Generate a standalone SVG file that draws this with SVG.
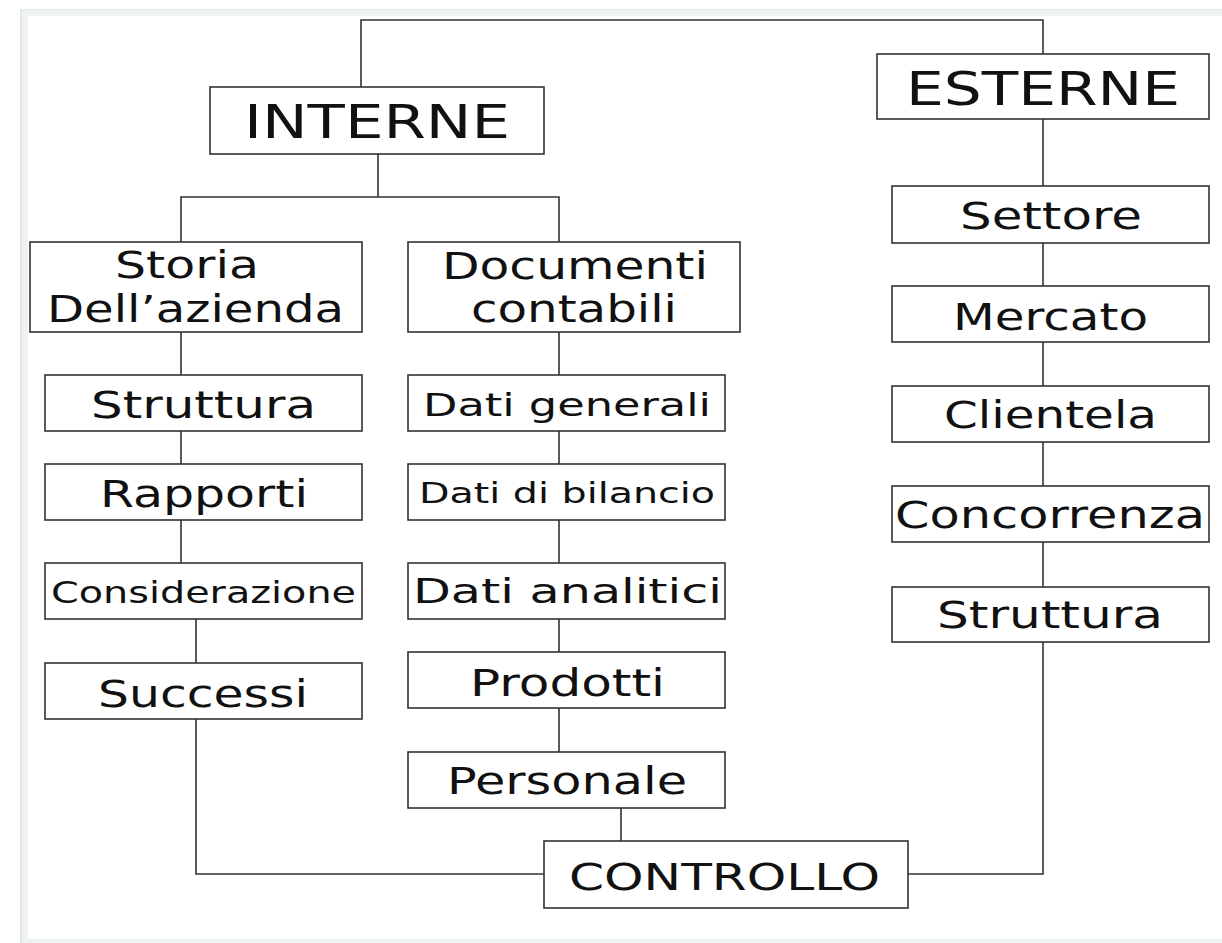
<svg xmlns="http://www.w3.org/2000/svg" width="1222" height="943" viewBox="0 0 1222 943">
<style>
.box{fill:#fff;stroke:#333;stroke-width:1.6}
.t{font-family:"DejaVu Sans","Verdana",sans-serif;fill:#111;}
.c{fill:none;stroke:#333;stroke-width:1.6}
</style>
<rect x="0" y="0" width="1222" height="943" fill="#fff"/>
<rect x="20" y="9" width="1202" height="934" fill="#e4e7e7"/>
<rect x="22" y="10" width="1200" height="933" fill="#eef2f2"/>
<rect x="28" y="16" width="1194" height="923" fill="#fff"/>
<g id="connectors">
<path class="c" d="M361,87 V20 H1043 V54"/>
<path class="c" d="M378,154 V197 M181,242 V197 H559 V242"/>
<path class="c" d="M181,332 V375 M181,431 V464 M181,520 V563 M196,619 V663"/>
<path class="c" d="M196,719 V874 H544"/>
<path class="c" d="M559,332 V375 M559,431 V464 M559,520 V563 M559,619 V652 M559,708 V752 M621,808 V841"/>
<path class="c" d="M1043,119 V186 M1043,243 V286 M1043,342 V386 M1043,442 V486 M1043,542 V587"/>
<path class="c" d="M1043,642 V874 H908"/>
</g>
<g id="interne"><rect class="box" x="210" y="87" width="334" height="67"/><text class="t" x="244" y="138" font-size="46" textLength="266" lengthAdjust="spacingAndGlyphs">INTERNE</text></g>
<g id="esterne"><rect class="box" x="877" y="54" width="332" height="65"/><text class="t" x="906" y="105" font-size="46" textLength="274" lengthAdjust="spacingAndGlyphs">ESTERNE</text></g>
<g id="storia"><rect class="box" x="30" y="242" width="332" height="90"/><text class="t" x="115" y="278" font-size="37" textLength="144" lengthAdjust="spacingAndGlyphs">Storia</text><text class="t" x="47" y="322" font-size="37" textLength="297" lengthAdjust="spacingAndGlyphs">Dell’azienda</text></g>
<g id="documenti"><rect class="box" x="408" y="242" width="332" height="90"/><text class="t" x="442" y="279" font-size="37" textLength="266" lengthAdjust="spacingAndGlyphs">Documenti</text><text class="t" x="471" y="322" font-size="37" textLength="206" lengthAdjust="spacingAndGlyphs">contabili</text></g>
<g id="settore"><rect class="box" x="892" y="186" width="317" height="57"/><text class="t" x="960" y="229" font-size="37" textLength="182" lengthAdjust="spacingAndGlyphs">Settore</text></g>
<g id="mercato"><rect class="box" x="892" y="286" width="317" height="56"/><text class="t" x="953" y="330" font-size="37" textLength="195" lengthAdjust="spacingAndGlyphs">Mercato</text></g>
<g id="clientela"><rect class="box" x="892" y="386" width="317" height="56"/><text class="t" x="944" y="428" font-size="37" textLength="213" lengthAdjust="spacingAndGlyphs">Clientela</text></g>
<g id="concorrenza"><rect class="box" x="892" y="486" width="317" height="56"/><text class="t" x="895" y="528" font-size="38" textLength="310" lengthAdjust="spacingAndGlyphs">Concorrenza</text></g>
<g id="struttura-est"><rect class="box" x="892" y="587" width="317" height="55"/><text class="t" x="937" y="628" font-size="37" textLength="226" lengthAdjust="spacingAndGlyphs">Struttura</text></g>
<g id="struttura-int"><rect class="box" x="45" y="375" width="317" height="56"/><text class="t" x="91" y="418" font-size="37" textLength="225" lengthAdjust="spacingAndGlyphs">Struttura</text></g>
<g id="rapporti"><rect class="box" x="45" y="464" width="317" height="56"/><text class="t" x="100" y="507" font-size="37" textLength="208" lengthAdjust="spacingAndGlyphs">Rapporti</text></g>
<g id="considerazione"><rect class="box" x="45" y="563" width="317" height="56"/><text class="t" x="51" y="603" font-size="30" textLength="305" lengthAdjust="spacingAndGlyphs">Considerazione</text></g>
<g id="successi"><rect class="box" x="45" y="663" width="317" height="56"/><text class="t" x="98" y="707" font-size="37" textLength="210" lengthAdjust="spacingAndGlyphs">Successi</text></g>
<g id="dati-generali"><rect class="box" x="408" y="375" width="317" height="56"/><text class="t" x="423" y="416" font-size="32" textLength="288" lengthAdjust="spacingAndGlyphs">Dati generali</text></g>
<g id="dati-bilancio"><rect class="box" x="408" y="464" width="317" height="56"/><text class="t" x="419" y="503" font-size="29" textLength="296" lengthAdjust="spacingAndGlyphs">Dati di bilancio</text></g>
<g id="dati-analitici"><rect class="box" x="408" y="563" width="317" height="56"/><text class="t" x="413" y="603" font-size="34" textLength="309" lengthAdjust="spacingAndGlyphs">Dati analitici</text></g>
<g id="prodotti"><rect class="box" x="408" y="652" width="317" height="56"/><text class="t" x="470" y="696" font-size="37" textLength="195" lengthAdjust="spacingAndGlyphs">Prodotti</text></g>
<g id="personale"><rect class="box" x="408" y="752" width="317" height="56"/><text class="t" x="447" y="794" font-size="37" textLength="240" lengthAdjust="spacingAndGlyphs">Personale</text></g>
<g id="controllo"><rect class="box" x="544" y="841" width="364" height="67"/><text class="t" x="569" y="890" font-size="38" textLength="311" lengthAdjust="spacingAndGlyphs">CONTROLLO</text></g>
</svg>
